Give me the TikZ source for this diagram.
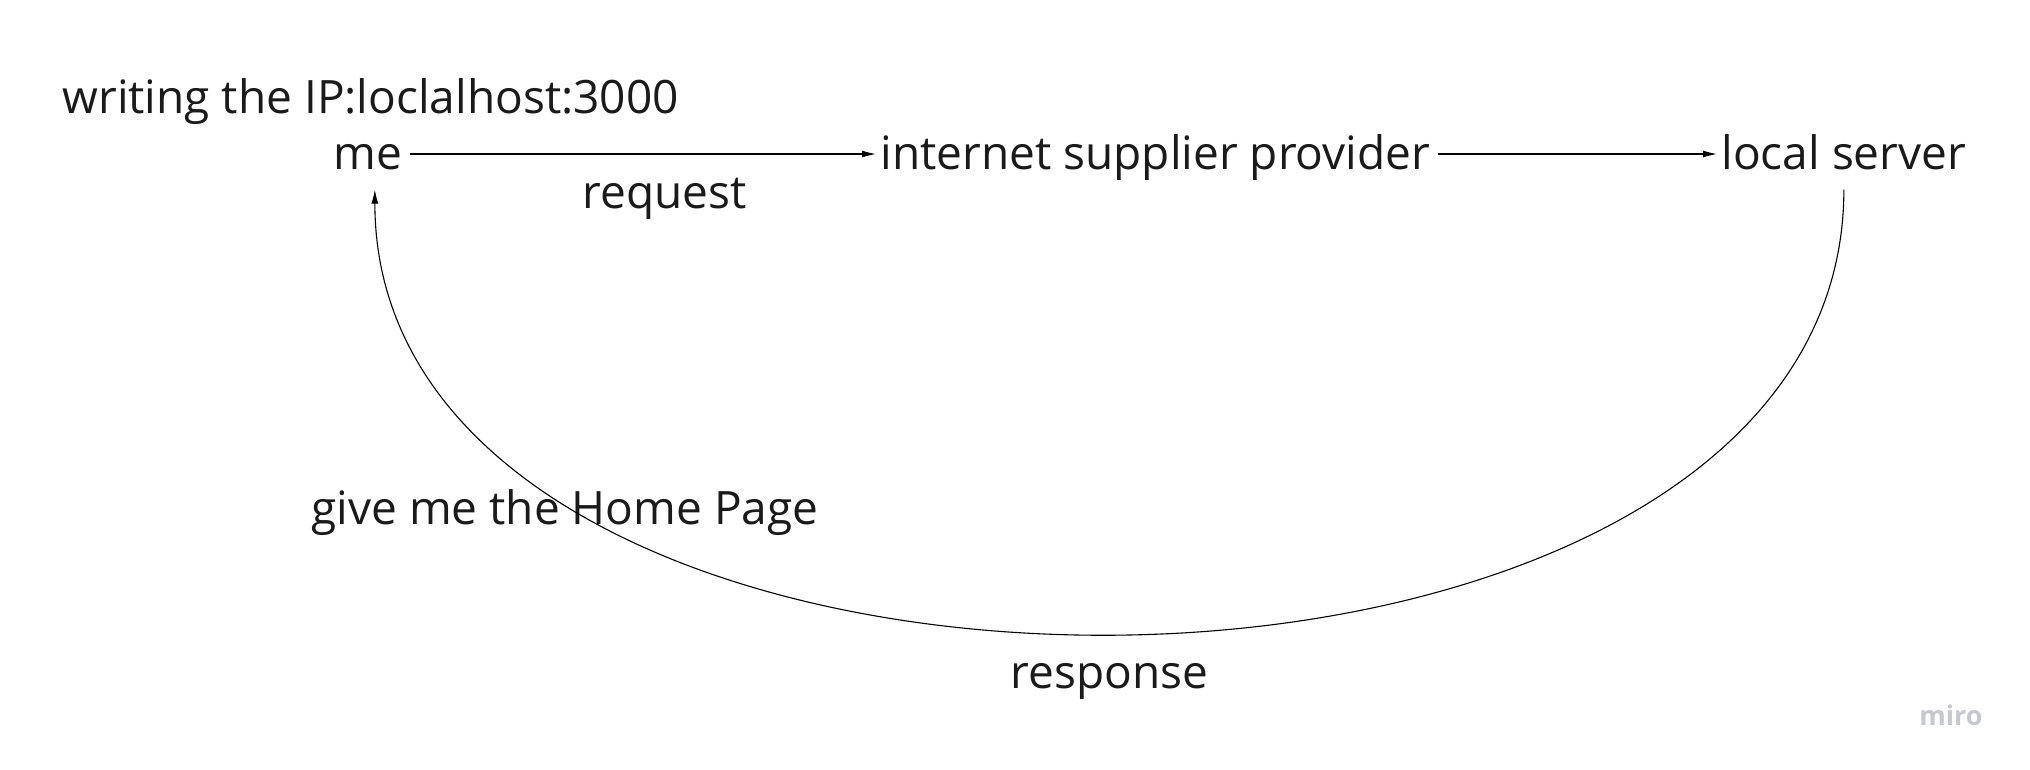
\documentclass[tikz,border=0pt]{standalone}
\usepackage{fontspec}
\setmainfont{Open Sans}
\usetikzlibrary{arrows.meta}
\definecolor{inkgray}{HTML}{1A1A1A}
\definecolor{mirogray}{HTML}{C6C7D3}

\begin{document}
\begin{tikzpicture}
  [x=1pt,y=-1pt,>={Latex[length=14pt,width=7pt]},line width=1.1pt,
  	every node/.style={inner sep=4pt,anchor=base west,text=inkgray,
  		text height=40pt,text depth=10pt,font=\fontsize{46pt}{55pt}\selectfont
  		}
  ]
  \useasboundingbox (0,0) rectangle (2030,769);
  \node (n1) at (329,169) {me};
  \node (n2) at (876,169) {internet supplier provider};
  \node (n3) at (1717,169) {local server};
  \node [draw=none,fill=none] (n4) at (58,113) {writing the IP:loclalhost:3000};
  \node [draw=none,fill=none] (n5) at (578,208) {request};
  \node [draw=none,fill=none] (n6) at (307,524) {give me the Home Page};
  \node [draw=none,fill=none] (n7) at (1006,688) {response};
  \node [anchor=base,text=mirogray,text height=,text depth=,
  	font=\fontsize{27pt}{32pt}\selectfont\bfseries] (n8) at (1951,725) {miro};

  \foreach \from/\to in {n1/n2,n2/n3}
    \draw[->, shorten <=3pt] (\from) -- (\to);

  \draw[->, shorten <=6pt, shorten >=6pt] (n3.south) .. controls +(0,598) and +(0,598) .. ([xshift=7pt]n1.south);
\end{tikzpicture}
\end{document}
